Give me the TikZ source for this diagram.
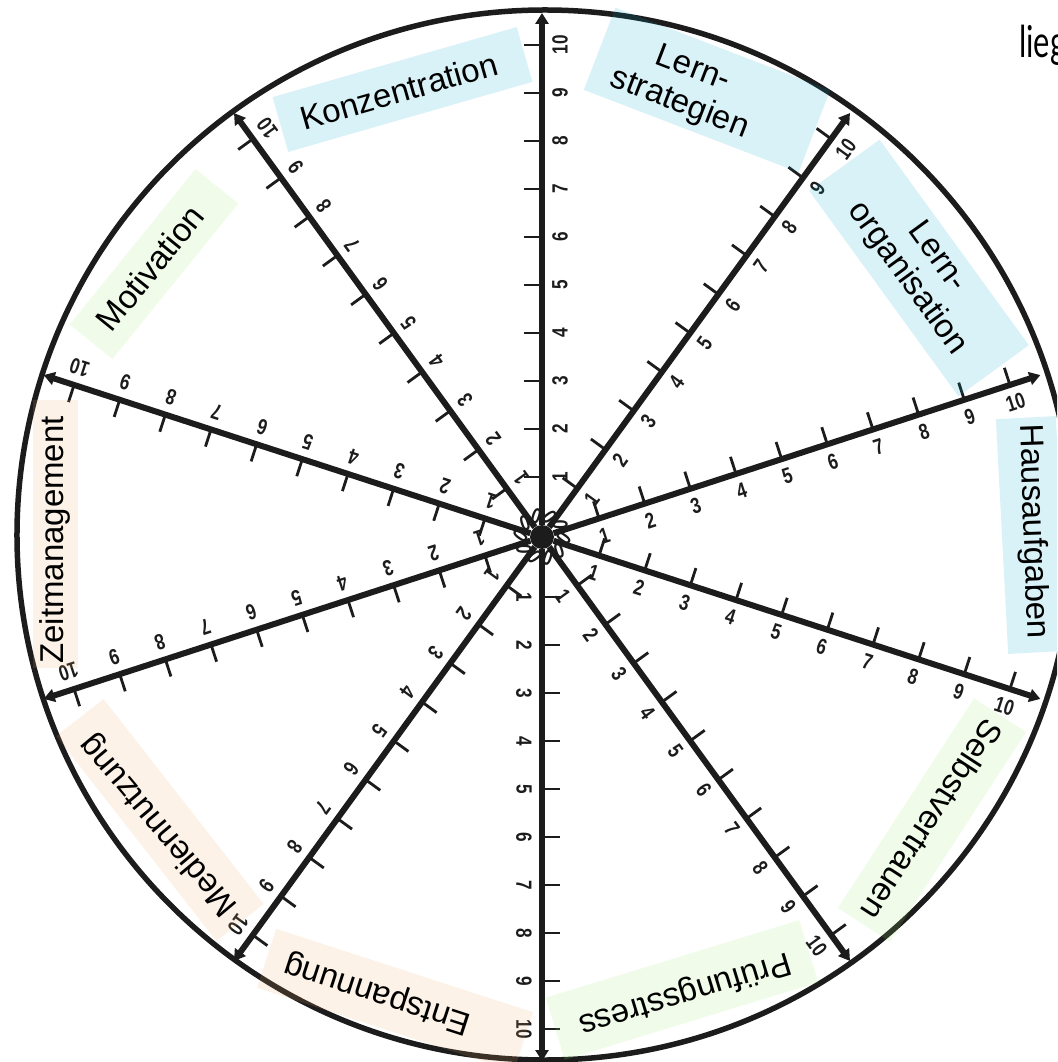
\documentclass[tikz,border=0pt]{standalone}
\usepackage{fontspec}
\setmainfont{Liberation Sans}
\newfontfamily\numfont[FakeStretch=0.78]{Liberation Sans}
\newfontfamily\handfont[FakeStretch=0.7]{Lato}
\usetikzlibrary{arrows.meta,calc}
\definecolor{ink}{HTML}{1C1C1C}
\definecolor{blueC}{RGB}{0,168,208}
\definecolor{greenC}{RGB}{160,240,110}
\definecolor{peachC}{RGB}{240,170,100}
\tikzset{
  axisline/.style={draw=ink, line width=6pt, -{Triangle[length=11pt,width=13pt]}},
  tickline/.style={draw=ink, line width=2.8pt},
  num/.style={font=\numfont\bfseries\fontsize{22}{22}\selectfont, text=ink, inner sep=0pt},
  lbox/.style={fill=#1, fill opacity=0.15, draw=none, inner sep=0pt},
  lab/.style={font=\fontsize{33}{37}\selectfont, text=black, align=center, inner sep=0pt},
}
\begin{document}
\begin{tikzpicture}[x=1pt,y=1pt]
\useasboundingbox (-542,-525) rectangle (515,537);
\clip (-542,-525) rectangle (515,537);
\fill[white] (-542,-525) rectangle (515,537);
% outer circle
\draw[ink, line width=5.5pt] (3,2) ellipse [x radius=528, y radius=525];
% center
\node[circle, fill=ink, minimum size=24pt, inner sep=0pt] (c) at (0,0) {};
% axes
\foreach \a [count=\i] in {90,54,18,-18,-54,-90,-126,-162,162,126} {
  \coordinate (e\i) at (\a:524);
  \draw[axisline] (c) -- (e\i);
  \foreach \k in {1,...,10} {
    \pgfmathsetmacro\d{12+48*\k}
    \draw[tickline] (\a:\d) -- ++(\a+90:18);
  }
  \foreach \k in {0,...,10} {
    \pgfmathsetmacro\d{12+48*\k}
    \node[num, rotate=\a] (n\i-\k) at ($(\a:\d)+(\a-90:18)$) {\k};
  }
}
% label boxes
\node[lbox=blueC, minimum width=254pt, minimum height=57pt, rotate=16] (bK) at (-139.5,447.5) {};
\node[lbox=blueC, minimum width=230pt, minimum height=88pt, rotate=-21] (bLS) at (165,447) {};
\node[lbox=blueC, minimum width=254pt, minimum height=87pt, rotate=-54] (bLO) at (377,269) {};
\node[lbox=blueC, minimum width=235pt, minimum height=60pt, rotate=-87] (bH) at (490,2) {};
\node[lbox=greenC, minimum width=250pt, minimum height=62pt, rotate=-123] (bS) at (390,-283) {};
\node[lbox=greenC, minimum width=265pt, minimum height=65pt, rotate=197] (bP) at (140,-453) {};
\node[lbox=peachC, minimum width=270pt, minimum height=62pt, rotate=162] (bE) at (-147,-463) {};
\node[lbox=peachC, minimum width=260pt, minimum height=60pt, rotate=128] (bM) at (-382,-283) {};
\node[lbox=peachC, minimum width=268pt, minimum height=45pt, rotate=90] (bZ) at (-486,3) {};
\node[lbox=greenC, minimum width=200pt, minimum height=55pt, rotate=51] (bMo) at (-388,273) {};
% label texts
\node[lab, rotate=16] (tK) at (-143,446) {Konzentration};
\node[lab, rotate=-21] (tLS) at (144,450) {Lern-\\strategien};
\node[lab, rotate=-54] (tLO) at (380,269) {Lern-\\organisation};
\node[lab, rotate=-88] (tH) at (490.5,5.5) {Hausaufgaben};
\node[lab, rotate=-123] (tS) at (390,-283) {Selbstvertrauen};
\node[lab, rotate=197] (tP) at (143,-456) {Prüfungsstress};
\node[lab, rotate=162] (tE) at (-164,-456) {Entspannung};
\node[lab, rotate=130] (tM) at (-383,-288) {Mediennutzung};
\node[lab, rotate=90] (tZ) at (-487,-3) {Zeitmanagement};
\node[lab, rotate=51] (tMo) at (-392,269) {Motivation};
% partial text top right
\node[font=\handfont\fontsize{44}{44}\selectfont, anchor=base west, inner sep=0pt] (lg) at (477,479) {liegt};
\end{tikzpicture}
\end{document}
